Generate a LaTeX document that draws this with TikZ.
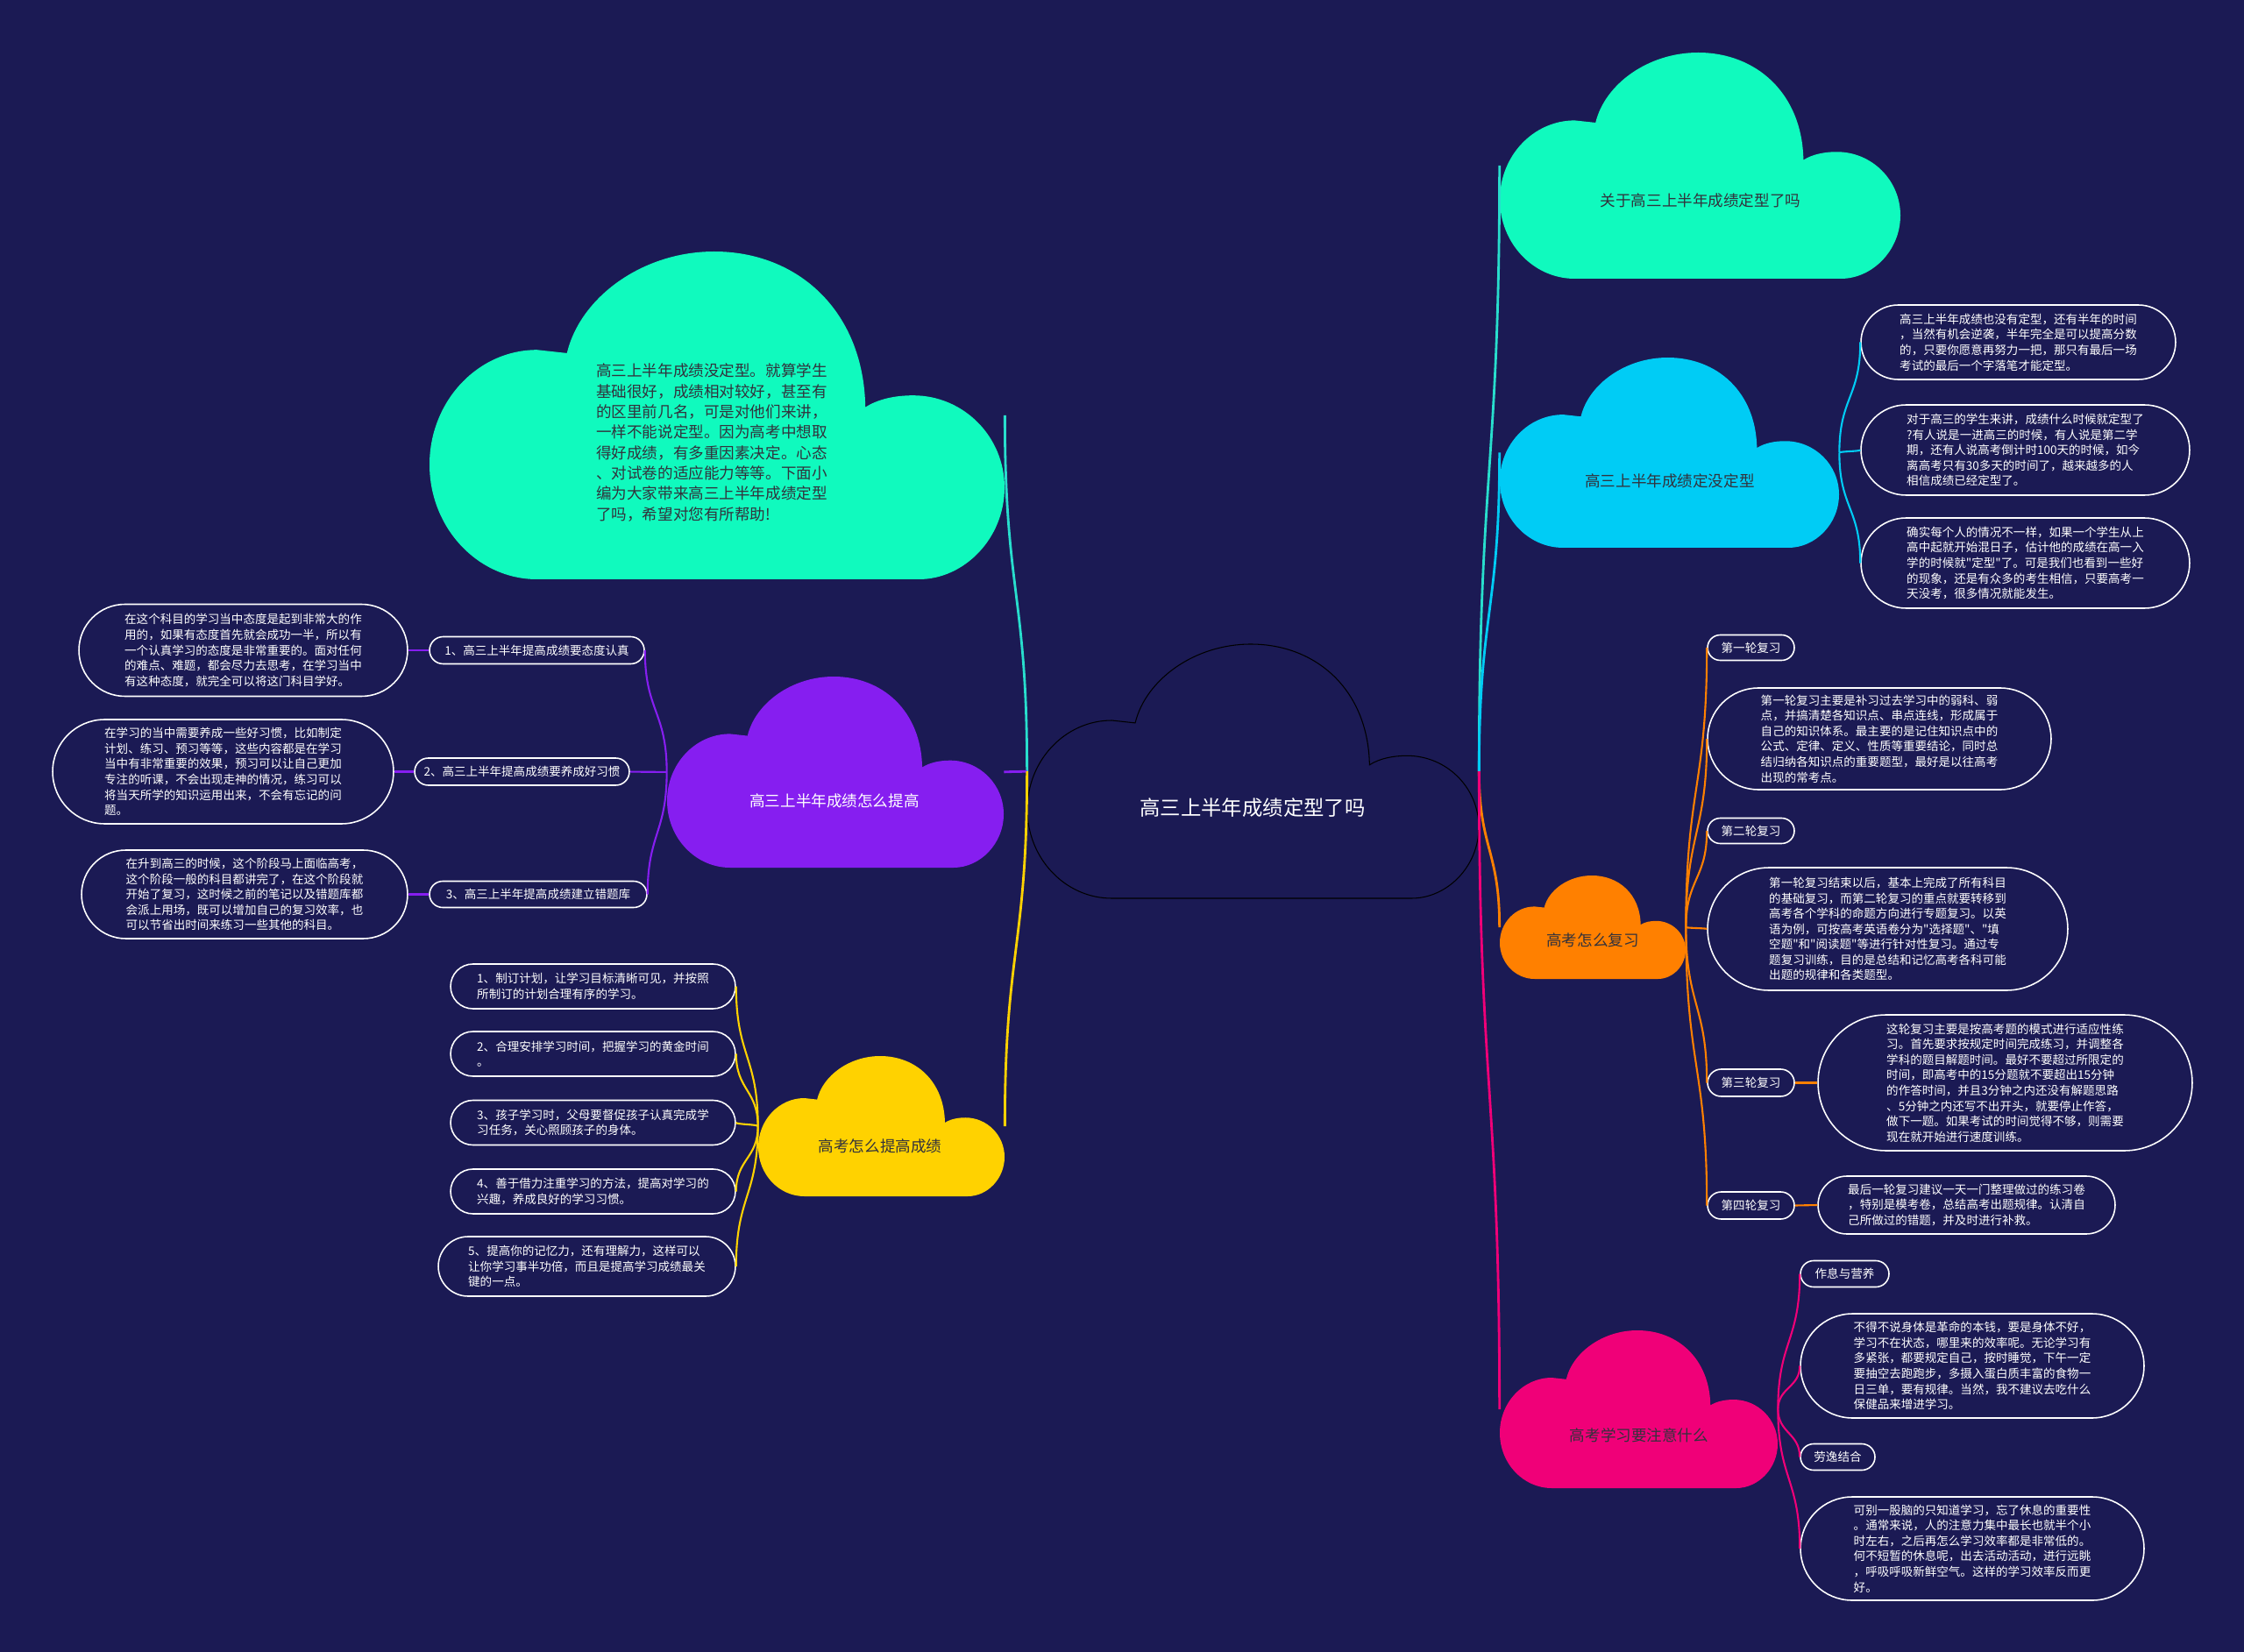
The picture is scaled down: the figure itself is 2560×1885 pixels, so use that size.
\documentclass[tikz,border=0pt]{standalone}
\usepackage{fontspec}
\setmainfont{Noto Sans CJK SC}[Ligatures=TeXOff]
\usetikzlibrary{shapes.misc,calc,positioning}
\definecolor{bgnavy}{RGB}{27,26,84}
\definecolor{mint}{RGB}{16,250,190}
\definecolor{mintline}{RGB}{40,222,205}
\definecolor{skyc}{RGB}{0,204,245}
\definecolor{violetc}{RGB}{134,30,240}
\definecolor{sun}{RGB}{255,210,0}
\definecolor{amber}{RGB}{255,128,0}
\definecolor{rose}{RGB}{240,0,120}
\definecolor{inkc}{RGB}{50,50,60}

% cloud outline in a box: name, x1, y1, x2, y2, path style
\newcommand{\puffcloud}[6]{%
  \begin{scope}[shift={(#2,#5)}, xscale={#4-#2}, yscale={#3-#5}]
    \path[#6] (0.187,0) .. controls (0.084,0) and (0,0.157) .. (0,0.35)
      .. controls (0,0.543) and (0.084,0.70) .. (0.187,0.70)
      -- (0.239,0.69)
      .. controls (0.262,0.86) and (0.37,1) .. (0.495,1)
      .. controls (0.64,1) and (0.755,0.82) .. (0.758,0.525)
      .. controls (0.78,0.55) and (0.81,0.561) .. (0.841,0.561)
      .. controls (0.929,0.561) and (1,0.435) .. (1,0.28)
      .. controls (1,0.125) and (0.93,0) .. (0.851,0) -- cycle;
  \end{scope}
  \node[inner sep=0pt, minimum width={(#4-#2)*0.02cm}, minimum height={(#5-#3)*0.02cm}] (#1) at ({(#2+#4)/2},{(#3+#5)/2}) {};
}

\tikzset{
  leaf/.style={rounded rectangle, draw=white, line width=0.9pt, fill=bgnavy, text=white,
    align=left, inner sep=0pt, font=\fontsize{7.7}{10}\selectfont},
  cloudtxt/.style={font=\fontsize{10}{12}\selectfont, text=inkc},
  link/.style={line width=1.6pt, to path={.. controls ($(\tikztostart)!0.5!(\tikztostart|-\tikztotarget)$)
    and ($(\tikztotarget)!0.5!(\tikztotarget|-\tikztostart)$) .. (\tikztotarget)}},
  twig/.style={line width=1.2pt},
}

\begin{document}
\begin{tikzpicture}[x=0.02cm, y=-0.02cm]

\fill[bgnavy] (0,0) rectangle (2560,1885);
\useasboundingbox (0,0) rectangle (2560,1885);

% Central topic
\puffcloud{root}{1172}{735}{1687}{1025}{fill=bgnavy, draw=black, line width=0.6pt}
\node[font=\fontsize{13.3}{15}\selectfont, text=white] (root-t) at (1429,922) {高三上半年成绩定型了吗};

% Left side clouds
\puffcloud{intro}{490}{287}{1146}{661}{fill=mint}
\node[cloudtxt, align=left, font=\fontsize{10}{13.3}\selectfont] (intro-t) at (812,505) {高三上半年成绩没定型。就算学生\\基础很好，成绩相对较好，甚至有\\的区里前几名，可是对他们来讲，\\一样不能说定型。因为高考中想取\\得好成绩，有多重因素决定。心态\\、对试卷的适应能力等等。下面小\\编为大家带来高三上半年成绩定型\\了吗，希望对您有所帮助!};

\puffcloud{purp}{761}{772}{1145}{990}{fill=violetc}
\node[cloudtxt, text=white] (purp-t) at (952,914) {高三上半年成绩怎么提高};

\puffcloud{yel}{865}{1205}{1146}{1365}{fill=sun}
\node[cloudtxt] (yel-t) at (1004,1308) {高考怎么提高成绩};

% Right side clouds
\puffcloud{tr}{1711}{60}{2168}{318}{fill=mint}
\node[cloudtxt] (tr-t) at (1940,229) {关于高三上半年成绩定型了吗};

\puffcloud{cyanc}{1711}{408}{2098}{625}{fill=skyc}
\node[cloudtxt] (cyanc-t) at (1905,549) {高三上半年成绩定没定型};

\puffcloud{oran}{1711}{999}{1923}{1117}{fill=amber}
\node[cloudtxt] (oran-t) at (1817,1073) {高考怎么复习};

\puffcloud{pink}{1711}{1518}{2028}{1698}{fill=rose}
\node[cloudtxt] (pink-t) at (1870,1638) {高考学习要注意什么};

% Purple leaves
\node[leaf, minimum width=4.9cm, minimum height=0.62cm] (p1l) at (612.5,742) {1、高三上半年提高成绩要态度认真};
\node[leaf, minimum width=7.5cm, minimum height=2.1cm] (p1d) at (277.5,742) {在这个科目的学习当中态度是起到非常大的作\\用的，如果有态度首先就会成功一半，所以有\\一个认真学习的态度是非常重要的。面对任何\\的难点、难题，都会尽力去思考，在学习当中\\有这种态度，就完全可以将这门科目学好。};
\node[leaf, minimum width=4.9cm, minimum height=0.62cm] (p2l) at (595.5,880.5) {2、高三上半年提高成绩要养成好习惯};
\node[leaf, minimum width=7.78cm, minimum height=2.38cm] (p2d) at (254.5,880.5) {在学习的当中需要养成一些好习惯，比如制定\\计划、练习、预习等等，这些内容都是在学习\\当中有非常重要的效果，预习可以让自己更加\\专注的听课，不会出现走神的情况，练习可以\\将当天所学的知识运用出来，不会有忘记的问\\题。};
\node[leaf, minimum width=4.96cm, minimum height=0.6cm] (p3l) at (614,1020.5) {3、高三上半年提高成绩建立错题库};
\node[leaf, minimum width=7.44cm, minimum height=2.02cm] (p3d) at (279,1020.5) {在升到高三的时候，这个阶段马上面临高考，\\这个阶段一般的科目都讲完了，在这个阶段就\\开始了复习，这时候之前的笔记以及错题库都\\会派上用场，既可以增加自己的复习效率，也\\可以节省出时间来练习一些其他的科目。};

% Yellow leaves
\foreach \k/\yy/\txt in {1/1125.5/{1、制订计划，让学习目标清晰可见，并按照\\所制订的计划合理有序的学习。},
    2/1202.5/{2、合理安排学习时间，把握学习的黄金时间\\。},
    3/1281/{3、孩子学习时，父母要督促孩子认真完成学\\习任务，关心照顾孩子的身体。},
    4/1359.5/{4、善于借力注重学习的方法，提高对学习的\\兴趣，养成良好的学习习惯。}}
  \node[leaf, minimum width=6.5cm, minimum height=1.02cm] (y\k) at (676.5,\yy) {\txt};
\node[leaf, minimum width=6.78cm, minimum height=1.36cm] (y5) at (669.5,1445) {5、提高你的记忆力，还有理解力，这样可以\\让你学习事半功倍，而且是提高学习成绩最关\\键的一点。};

% Cyan leaves
\node[leaf, minimum width=7.18cm, minimum height=1.7cm] (c1) at (2302.5,390.5) {高三上半年成绩也没有定型，还有半年的时间\\，当然有机会逆袭，半年完全是可以提高分数\\的，只要你愿意再努力一把，那只有最后一场\\考试的最后一个字落笔才能定型。};
\node[leaf, minimum width=7.5cm, minimum height=2.06cm] (c2) at (2310.5,513.5) {对于高三的学生来讲，成绩什么时候就定型了\\?有人说是一进高三的时候，有人说是第二学\\期，还有人说高考倒计时100天的时候，如今\\离高考只有30多天的时间了，越来越多的人\\相信成绩已经定型了。};
\node[leaf, minimum width=7.5cm, minimum height=2.06cm] (c3) at (2310.5,642.5) {确实每个人的情况不一样，如果一个学生从上\\高中起就开始混日子，估计他的成绩在高一入\\学的时候就"定型"了。可是我们也看到一些好\\的现象，还是有众多的考生相信，只要高考一\\天没考，很多情况就能发生。};

% Orange leaves
\node[leaf, minimum width=1.98cm, minimum height=0.58cm] (o1l) at (1997.5,739) {第一轮复习};
\node[leaf, minimum width=7.84cm, minimum height=2.32cm] (o1d) at (2144,843) {第一轮复习主要是补习过去学习中的弱科、弱\\点，并搞清楚各知识点、串点连线，形成属于\\自己的知识体系。最主要的是记住知识点中的\\公式、定律、定义、性质等重要结论，同时总\\结归纳各知识点的重要题型，最好是以往高考\\出现的常考点。};
\node[leaf, minimum width=1.98cm, minimum height=0.58cm] (o2l) at (1997.5,948) {第二轮复习};
\node[leaf, minimum width=8.22cm, minimum height=2.8cm] (o2d) at (2153.5,1060) {第一轮复习结束以后，基本上完成了所有科目\\的基础复习，而第二轮复习的重点就要转移到\\高考各个学科的命题方向进行专题复习。以英\\语为例，可按高考英语卷分为"选择题"、"填\\空题"和"阅读题"等进行针对性复习。通过专\\题复习训练，目的是总结和记忆高考各科可能\\出题的规律和各类题型。};
\node[leaf, minimum width=1.98cm, minimum height=0.62cm] (o3l) at (1997.5,1235.5) {第三轮复习};
\node[leaf, minimum width=8.54cm, minimum height=3.1cm] (o3d) at (2287.5,1235.5) {这轮复习主要是按高考题的模式进行适应性练\\习。首先要求按规定时间完成练习，并调整各\\学科的题目解题时间。最好不要超过所限定的\\时间，即高考中的15分题就不要超出15分钟\\的作答时间，并且3分钟之内还没有解题思路\\、5分钟之内还写不出开头，就要停止作答，\\做下一题。如果考试的时间觉得不够，则需要\\现在就开始进行速度训练。};
\node[leaf, minimum width=1.98cm, minimum height=0.62cm] (o4l) at (1997.5,1375.5) {第四轮复习};
\node[leaf, minimum width=6.78cm, minimum height=1.32cm] (o4d) at (2243.5,1375) {最后一轮复习建议一天一门整理做过的练习卷\\，特别是模考卷，总结高考出题规律。认清自\\己所做过的错题，并及时进行补救。};

% Pink leaves
\node[leaf, minimum width=2.02cm, minimum height=0.6cm] (k1l) at (2104.5,1453.5) {作息与营养};
\node[leaf, minimum width=7.84cm, minimum height=2.38cm] (k1d) at (2250,1558.5) {不得不说身体是革命的本钱，要是身体不好，\\学习不在状态，哪里来的效率呢。无论学习有\\多紧张，都要规定自己，按时睡觉，下午一定\\要抽空去跑跑步，多摄入蛋白质丰富的食物一\\日三单，要有规律。当然，我不建议去吃什么\\保健品来增进学习。};
\node[leaf, minimum width=1.7cm, minimum height=0.6cm] (k2l) at (2096.5,1662.5) {劳逸结合};
\node[leaf, minimum width=7.84cm, minimum height=2.36cm] (k2d) at (2250,1767) {可别一股脑的只知道学习，忘了休息的重要性\\。通常来说，人的注意力集中最长也就半个小\\时左右，之后再怎么学习效率都是非常低的。\\何不短暂的休息呢，出去活动活动，进行远眺\\，呼吸呼吸新鲜空气。这样的学习效率反而更\\好。};

% Main branches
\draw[link, mintline] (root.west) to (intro.east);
\draw[link, violetc] (root.west) to (purp.east);
\draw[link, sun] (root.west) to (yel.east);
\draw[link, mintline] (root.east) to (tr.west);
\draw[link, skyc] (root.east) to (cyanc.west);
\draw[link, amber] (root.east) to (oran.west);
\draw[link, rose] (root.east) to (pink.west);

% Sub branches
\foreach \k in {1,2,3} {
  \draw[link, twig, violetc] (purp.west) to (p\k l.east);
  \draw[twig, violetc] (p\k l.west) -- (p\k d.east);
  \draw[link, twig, skyc] (cyanc.east) to (c\k.west);
}
\foreach \k in {1,...,5}
  \draw[link, twig, sun] (yel.west) to (y\k.east);
\foreach \n in {o1l,o1d,o2l,o2d,o3l,o4l}
  \draw[link, twig, amber] (oran.east) to (\n.west);
\draw[twig, amber] (o3l.east) -- (o3d.west);
\draw[twig, amber] (o4l.east) -- (o4d.west);
\foreach \n in {k1l,k1d,k2l,k2d}
  \draw[link, twig, rose] (pink.east) to (\n.west);

\end{tikzpicture}
\end{document}
